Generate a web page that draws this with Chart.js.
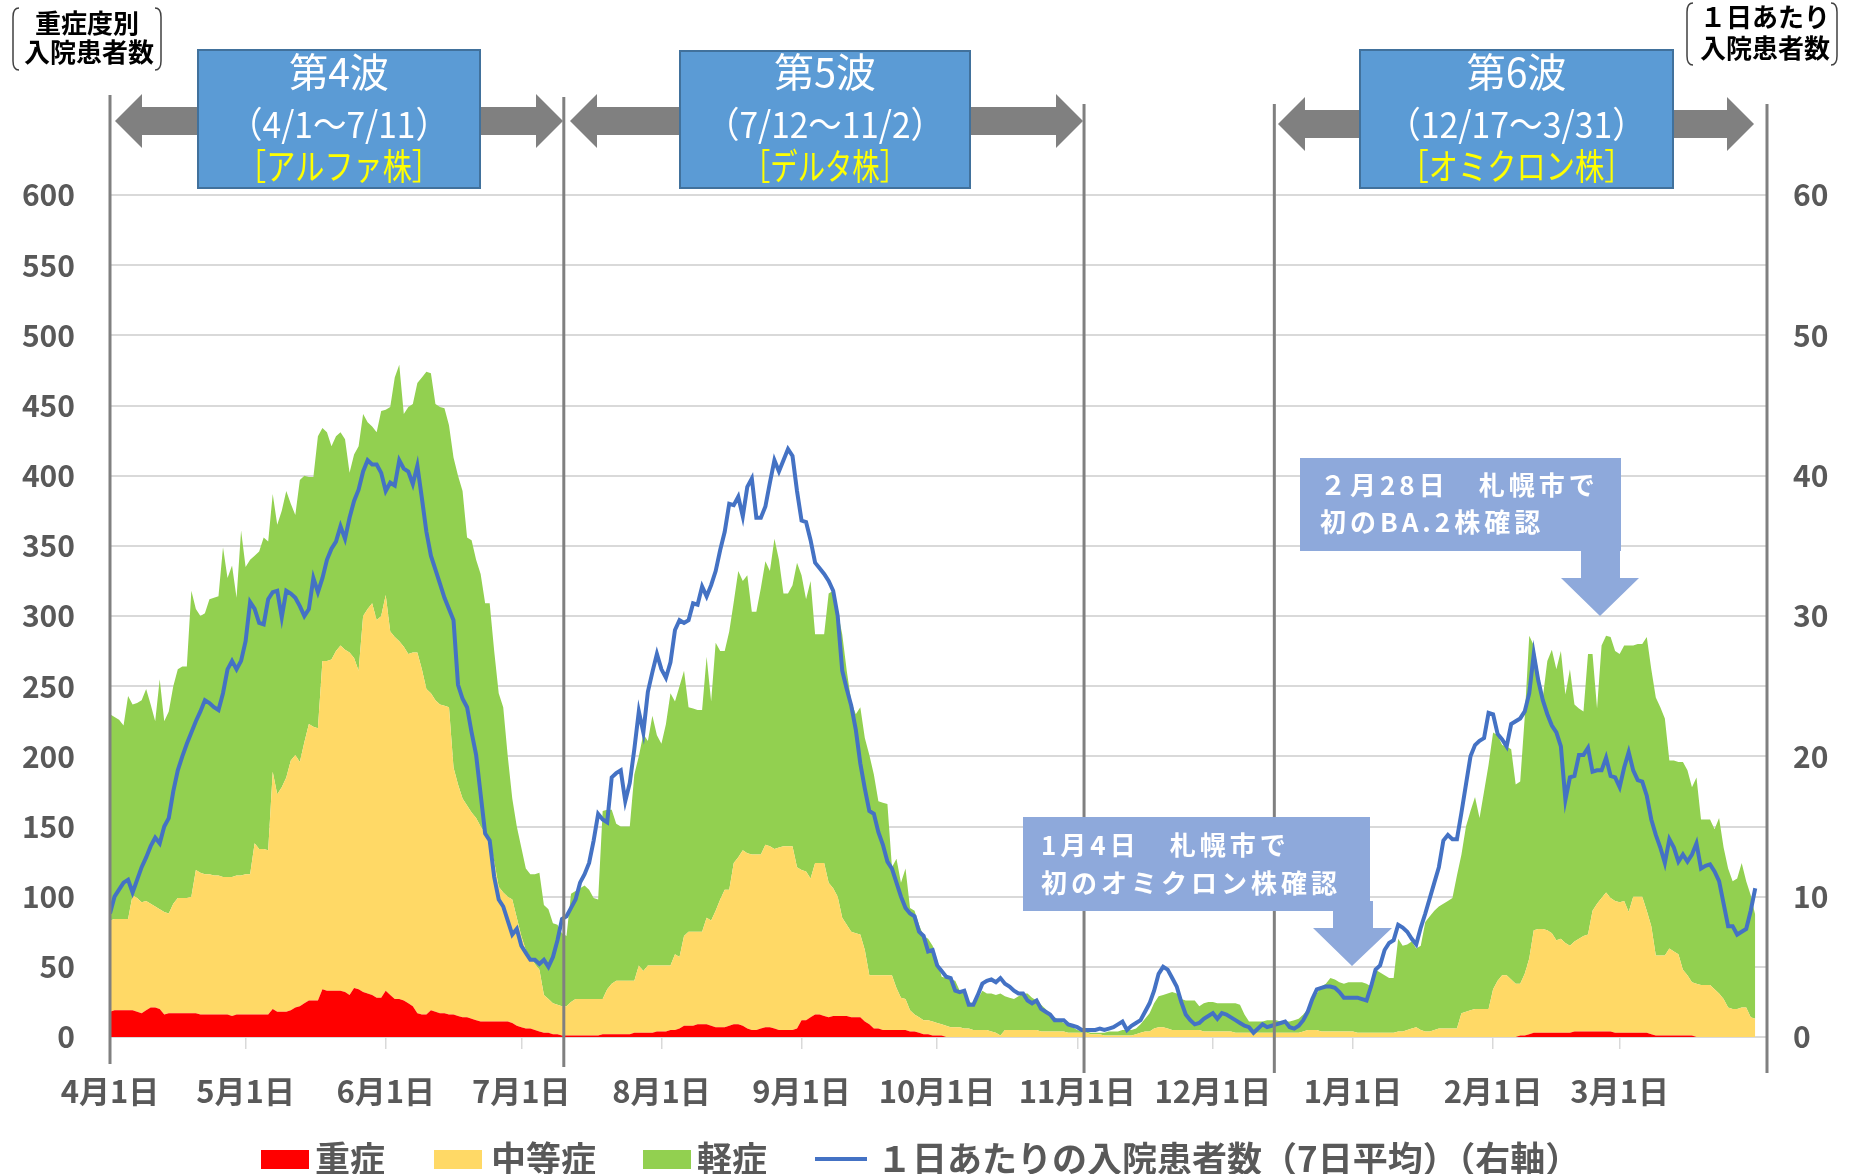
<!DOCTYPE html>
<html><head><meta charset="utf-8">
<script src="https://cdn.jsdelivr.net/npm/chart.js@4.4.0/dist/chart.umd.min.js"></script>
<style>html,body{margin:0;padding:0;background:#fff;}#wrap{width:1854px;height:1174px;position:relative;}canvas{display:block;}</style>
</head><body><div id="wrap"><canvas id="c" width="1854" height="1174"></canvas></div>
<script>
// Day 0 = 2021-04-01 ... day 364 = 2022-03-31
const monthTickDays = [0,30,61,91,122,153,183,214,244,275,306,334];
const monthTickLabels = ['4月1日','5月1日','6月1日','7月1日','8月1日','9月1日','10月1日','11月1日','12月1日','1月1日','2月1日','3月1日'];
const seriesNames = ['重症','中等症','軽症','１日あたりの入院患者数（7日平均）（右軸）'];

const severe = [
18,19,19,19,19,19,18,17,19,21, 21,20,16,17,17,17,17,17,17,17,
16,16,16,16,16,16,16,15,16,16, 16,16,16,16,16,16,20,18,18,18,
19,21,22,24,26,26,26,34,33,33, 33,33,32,30,35,34,32,31,30,28,
28,33,30,27,27,26,24,22,17,16, 16,19,18,17,17,16,16,15,14,14,
13,12,11,11,11,11,11,11,11,10, 8,7,6,6,5,4,3,3,2,2,
1,1,1,1,1,1,1,1,1,2, 2,2,2,2,2,2,3,3,3,3,
3,4,4,4,5,5,6,8,8,8, 9,9,9,8,7,7,7,8,9,9,
8,6,5,5,6,7,7,6,5,5, 5,5,6,12,12,14,16,16,15,14,
15,15,15,15,14,14,14,11,9,6, 6,5,5,5,5,5,5,4,4,3,
2,2,1,1,1,0,0,0,0,0, 0,0,0,0,0,0,0,0,0,0,
0,0,0,0,0,0,0,0,0,0, 0,0,0,0,0,0,0,0,0,0,
0,0,0,0,0,0,0,0,0,0, 0,0,0,0,0,0,0,0,0,0,
0,0,0,0,0,0,0,0,0,0, 0,0,0,0,0,0,0,0,0,0,
0,0,0,0,0,0,0,0,0,0, 0,0,0,0,0,0,0,0,0,0,
0,0,0,0,0,0,0,0,0,0, 0,0,0,0,0,0,0,0,0,0,
0,0,0,0,0,0,0,0,0,0, 0,0,1,1,2,3,3,3,3,3,
3,3,3,3,4,4,4,4,4,4, 4,4,4,3,3,3,3,3,3,3,
3,2,1,1,1,1,1,1,1,1, 1,0,0,0,0,0,0,0,0,0,
0,0,0,0,0];

const moderate = [
65,65,65,65,65,82,81,79,78,74, 72,71,73,71,78,82,82,82,83,102,
101,100,100,99,99,98,98,99,99,99, 100,100,122,118,118,117,169,155,160,167,
178,180,174,186,197,195,194,234,235,236, 242,246,244,244,235,227,268,274,279,269,
272,282,259,258,255,252,249,252,257,246, 232,226,222,220,219,219,176,165,156,151,
147,144,139,134,129,114,96,92,89,88, 77,65,56,51,47,44,27,24,22,21,
21,21,24,26,26,26,26,26,26,25, 32,36,38,38,38,38,37,48,44,48,
48,47,47,47,46,54,51,64,67,67, 66,66,76,75,83,91,98,97,115,119,
125,125,125,125,124,130,129,128,130,131, 131,131,115,107,106,99,108,108,109,96,
91,85,70,65,61,60,59,51,35,38, 38,39,39,39,30,23,22,15,12,11,
10,10,10,9,8,8,7,7,7,6, 6,5,5,5,5,4,3,1,5,5,
5,5,5,5,5,5,4,4,4,4, 4,4,3,3,3,3,3,2,2,2,
1,1,1,1,1,1,1,2,3,4, 4,6,7,7,6,5,5,5,5,5,
5,5,4,4,4,4,4,4,4,3, 3,3,3,3,3,3,3,3,3,3,
3,3,3,3,4,5,5,5,4,4, 4,4,4,4,4,4,3,3,3,3,
3,3,3,3,3,4,4,5,6,7, 5,4,4,5,6,6,6,6,6,17,
18,19,20,20,20,20,34,40,44,44, 41,38,37,44,54,73,74,74,73,71,
66,67,64,62,64,66,68,69,86,91, 95,99,95,94,93,94,86,97,97,97,
87,77,57,57,57,62,60,58,47,43, 38,38,37,37,37,34,31,27,21,20,
20,21,21,14,13];

const mild = [
147,144,142,138,159,136,139,144,151,142, 132,164,136,144,155,163,165,165,218,186,
183,186,196,198,199,235,213,222,198,246, 219,224,205,212,222,220,198,192,197,204,
183,171,201,190,176,178,208,166,163,152, 153,152,150,128,145,160,144,133,126,134,
146,132,160,185,197,166,176,177,192,208, 226,228,211,212,212,201,221,220,219,191,
194,184,180,164,169,150,138,132,100,72, 65,63,58,59,64,69,64,64,57,57,
52,50,77,77,79,81,78,72,71,134, 128,124,112,110,110,110,147,149,169,160,
178,164,158,172,194,180,193,189,160,159, 158,158,186,156,191,177,170,184,186,204,
192,198,173,173,190,202,196,221,205,180, 180,186,217,210,194,212,163,163,163,206,
212,203,202,181,164,156,162,151,157,143, 124,123,122,77,92,82,93,73,74,66,
60,58,54,45,34,34,34,33,26,26, 19,19,22,28,26,27,27,30,24,23,
22,24,26,26,23,21,19,16,12,10, 8,6,5,4,2,1,1,1,1,1,
2,3,3,3,4,4,4,4,6,9, 13,18,22,23,25,27,26,22,21,21,
21,17,20,21,21,20,20,20,20,21, 20,13,8,8,8,8,9,9,9,8,
8,8,9,10,12,15,21,26,32,34, 38,37,35,34,35,35,36,36,35,33,
45,43,41,39,39,66,61,61,62,56, 60,78,82,85,87,89,91,93,109,113,
132,142,151,136,155,174,183,175,164,163, 164,142,144,183,230,203,183,165,192,202,
193,205,177,197,169,164,160,200,183,139, 180,183,186,178,177,182,190,179,180,180,
195,183,184,177,169,134,136,137,148,146, 139,147,118,118,118,114,125,108,99,91,
93,103,90,87,74];

const admissions7d = [
8.8,10.0,10.5,11.0,11.2,10.3,11.2,12.1,12.8,13.6, 14.2,13.8,15.0,15.6,17.5,19.0,20.0,20.9,21.7,22.5,
23.2,24.0,23.8,23.5,23.3,24.5,26.2,26.8,26.2,26.8, 28.2,31.0,30.5,29.5,29.4,31.2,31.7,31.8,29.9,31.8,
31.6,31.3,30.7,30.0,30.5,32.7,31.7,32.7,34.0,34.8, 35.3,36.4,35.5,37.0,38.2,39.0,40.3,41.1,40.8,40.8,
40.2,38.9,39.5,39.3,41.1,40.5,40.3,39.4,40.7,38.4, 36.0,34.3,33.3,32.3,31.3,30.5,29.7,25.1,24.1,23.5,
21.7,20.1,17.3,14.5,14.0,11.4,9.8,9.3,8.3,7.3, 7.7,6.5,6.0,5.5,5.5,5.2,5.5,5.0,5.7,6.9,
8.4,8.6,9.2,9.8,11.0,11.6,12.4,14.0,15.9,15.5, 15.3,18.5,18.8,19.0,16.8,18.1,20.5,23.2,21.7,24.6,
26.0,27.3,26.2,25.6,26.7,29.0,29.7,29.5,29.7,30.9, 30.8,32.1,31.4,32.2,33.2,34.7,36.0,38.0,37.9,38.5,
37.1,39.2,39.8,37.0,37.0,37.8,39.5,41.1,40.3,41.1, 41.9,41.4,38.9,36.8,36.7,35.4,33.8,33.4,33.0,32.5,
31.8,30.0,26.1,24.8,23.6,21.9,19.5,17.7,16.1,15.9, 14.6,13.7,12.5,12.0,11.0,10.0,9.2,8.8,8.6,7.5,
7.2,6.1,6.2,5.1,4.7,4.3,4.2,3.3,3.2,3.3, 2.3,2.3,3.0,3.8,4.0,4.1,3.9,4.2,3.8,3.6,
3.3,3.1,3.1,2.6,2.4,2.6,2.0,1.8,1.6,1.2, 1.2,1.2,0.9,0.8,0.7,0.5,0.5,0.5,0.5,0.6,
0.5,0.6,0.7,0.9,1.1,0.5,0.8,1.0,1.2,1.8, 2.4,3.3,4.5,5.0,4.8,4.2,3.6,2.5,1.6,1.2,
0.9,1.0,1.3,1.5,1.7,1.3,1.7,1.6,1.4,1.2, 1.0,0.8,0.7,0.3,0.6,0.9,0.7,0.8,0.9,1.0,
1.1,0.7,0.6,0.8,1.2,1.8,2.7,3.4,3.5,3.6, 3.6,3.5,3.2,2.8,2.8,2.8,2.8,2.7,2.6,3.6,
4.8,5.1,6.2,6.7,6.9,8.0,7.8,7.5,7.0,6.6, 7.8,8.8,9.9,11.0,12.1,14.0,14.4,14.1,14.1,16.0,
18.0,20.0,20.8,21.1,21.3,23.1,23.0,21.6,21.2,20.7, 22.3,22.5,22.7,23.2,24.5,27.3,25.4,24.0,23.0,22.2,
21.7,20.7,16.9,18.5,18.6,20.1,20.1,20.6,18.9,19.0, 19.0,19.9,18.6,18.5,17.8,19.2,20.3,19.0,18.3,18.2,
17.2,15.5,14.4,13.5,12.4,14.1,13.5,12.5,13.0,12.5, 13.0,13.8,12.0,12.2,12.3,11.8,11.1,9.5,7.9,7.9,
7.3,7.5,7.7,9.0,10.6];

// wave boundaries (day positions of the grey separators)
const waveBoundaryDays = [0, 100.4, 215.5, 257.6];
const waveTitles = ['第4波','第5波','第6波'];
const wavePeriods = ['（4/1〜7/11）','（7/12〜11/2）','（12/17〜3/31）'];
const waveStrains = ['［アルファ株］','［デルタ株］','［オミクロン株］'];

const FONT = "'Noto Sans CJK JP', 'Noto Sans', sans-serif";
Chart.defaults.font.family = FONT;

const toXY = arr => arr.map((v, i) => ({x: i, y: v}));

const decor = {
  id: 'decor',
  afterDraw(chart) {
    const ctx = chart.ctx;
    const xs = chart.scales.x;
    ctx.save();
    const lines = [
      [xs.getPixelForValue(waveBoundaryDays[0]), 95, 1064],
      [xs.getPixelForValue(waveBoundaryDays[1]), 97, 1067],
      [xs.getPixelForValue(waveBoundaryDays[2]), 104, 1073],
      [xs.getPixelForValue(waveBoundaryDays[3]), 104, 1073],
      [xs.right, 104, 1073]
    ];
    ctx.strokeStyle = '#808080'; ctx.lineWidth = 3;
    lines.forEach(([x, y1, y2]) => { ctx.beginPath(); ctx.moveTo(x, y1); ctx.lineTo(x, y2); ctx.stroke(); });

    function dblArrow(x1, x2, cy) {
      const hl = 27, hh = 27, sh = 14;
      ctx.beginPath();
      ctx.moveTo(x1, cy); ctx.lineTo(x1 + hl, cy - hh); ctx.lineTo(x1 + hl, cy - sh);
      ctx.lineTo(x2 - hl, cy - sh); ctx.lineTo(x2 - hl, cy - hh); ctx.lineTo(x2, cy);
      ctx.lineTo(x2 - hl, cy + hh); ctx.lineTo(x2 - hl, cy + sh); ctx.lineTo(x1 + hl, cy + sh);
      ctx.lineTo(x1 + hl, cy + hh); ctx.closePath();
      ctx.fillStyle = '#808080'; ctx.fill();
    }
    dblArrow(115, 563, 121);
    dblArrow(570, 1083, 121);
    dblArrow(1278, 1754, 124);

    const boxes = [[198, 50, 282, 138, [100, 220, 204]], [680, 51, 290, 137, [102, 238, 164]], [1360, 50, 313, 138, [100, 259, 234]]];
    boxes.forEach((b, i) => {
      const [bx, by, bw, bh, widths] = b;
      ctx.fillStyle = '#5B9BD5'; ctx.fillRect(bx, by, bw, bh);
      ctx.strokeStyle = '#41719C'; ctx.lineWidth = 2; ctx.strokeRect(bx, by, bw, bh);
      const cx = bx + bw / 2;
      ctx.textAlign = 'center'; ctx.textBaseline = 'middle';
      ctx.fillStyle = '#FFFFFF';
      ctx.font = "40px " + FONT; ctx.fillText(waveTitles[i], cx, 72, widths[0]);
      ctx.font = "36px " + FONT; ctx.fillText(wavePeriods[i], cx, 124, widths[1]);
      ctx.fillStyle = '#FFFF00';
      ctx.font = "36px " + FONT; ctx.fillText(waveStrains[i], cx, 166, widths[2]);
    });

    function callout(rx, ry, rw, rh, sx1, sx2, hx1, hx2, tipX, shaftBottom, tipY, lines, tx, tys) {
      ctx.fillStyle = '#8EA9DB';
      ctx.fillRect(rx, ry, rw, rh);
      ctx.beginPath();
      ctx.moveTo(sx1, ry + rh - 10); ctx.lineTo(sx2, ry + rh - 10); ctx.lineTo(sx2, shaftBottom);
      ctx.lineTo(hx2, shaftBottom); ctx.lineTo(tipX, tipY); ctx.lineTo(hx1, shaftBottom);
      ctx.lineTo(sx1, shaftBottom); ctx.closePath(); ctx.fill();
      ctx.fillStyle = '#FFFFFF';
      ctx.font = "bold 26px " + FONT;
      ctx.textAlign = 'left'; ctx.textBaseline = 'middle';
      try { ctx.letterSpacing = '4px'; } catch (e) {}
      lines.forEach((t, k) => ctx.fillText(t, tx, tys[k]));
      try { ctx.letterSpacing = '0px'; } catch (e) {}
    }
    callout(1023, 817, 347, 94, 1333, 1373, 1313, 1392, 1352, 928, 966,
      ['1月4日　札幌市で', '初のオミクロン株確認'], 1041, [845, 883]);
    callout(1300, 458, 321, 93, 1581, 1620, 1561, 1639, 1600, 578, 616,
      ['２月28日　札幌市で', '初のBA.2株確認'], 1320, [485, 522]);

    function bracket(x, top, bottom, dir) {
      ctx.beginPath();
      ctx.moveTo(x + 6 * dir, top);
      ctx.quadraticCurveTo(x, top, x, top + 9);
      ctx.lineTo(x, bottom - 9);
      ctx.quadraticCurveTo(x, bottom, x + 6 * dir, bottom);
      ctx.strokeStyle = '#404040'; ctx.lineWidth = 1.5; ctx.stroke();
    }
    ctx.fillStyle = '#000000';
    ctx.font = "bold 26px " + FONT;
    ctx.textAlign = 'center'; ctx.textBaseline = 'middle';
    ctx.fillText('重症度別', 87, 23);
    ctx.fillText('入院患者数', 89, 52);
    bracket(13, 8, 70, 1); bracket(161, 8, 70, -1);
    ctx.fillText('１日あたり', 1765, 17);
    ctx.fillText('入院患者数', 1765, 48);
    bracket(1687, 3, 65, 1); bracket(1837, 3, 65, -1);

    const legendY = 1159;
    const items = [['box', '#FF0000', 261, 315], ['box', '#FFD966', 434, 491], ['box', '#92D050', 643, 697], ['line', '#4472C4', 815, 877]];
    ctx.font = "bold 35px " + FONT; ctx.textAlign = 'left'; ctx.textBaseline = 'middle';
    items.forEach((it, i) => {
      const [kind, col, x0, tx] = it;
      if (kind === 'box') { ctx.fillStyle = col; ctx.fillRect(x0, legendY - 9, 48, 19); }
      else { ctx.strokeStyle = col; ctx.lineWidth = 4; ctx.beginPath(); ctx.moveTo(x0, legendY); ctx.lineTo(x0 + 52, legendY); ctx.stroke(); }
      ctx.fillStyle = '#595959';
      ctx.fillText(seriesNames[i], tx, legendY);
    });
    ctx.restore();
  }
};

new Chart(document.getElementById('c'), {
  type: 'line',
  data: {
    datasets: [
      { label: seriesNames[0], data: toXY(severe), backgroundColor: '#FF0000', borderWidth: 0, pointRadius: 0, fill: 'origin', yAxisID: 'y', order: 1 },
      { label: seriesNames[1], data: toXY(moderate), backgroundColor: '#FFD966', borderWidth: 0, pointRadius: 0, fill: '-1', yAxisID: 'y', order: 1 },
      { label: seriesNames[2], data: toXY(mild), backgroundColor: '#92D050', borderWidth: 0, pointRadius: 0, fill: '-1', yAxisID: 'y', order: 1 },
      { label: seriesNames[3], data: toXY(admissions7d), borderColor: '#4472C4', borderWidth: 4, pointRadius: 0, fill: false, yAxisID: 'y2', order: 0, tension: 0 }
    ]
  },
  options: {
    responsive: false,
    devicePixelRatio: 1,
    animation: false,
    events: [],
    layout: { padding: { top: 195, left: 0, right: 0, bottom: 0 } },
    plugins: { legend: { display: false }, tooltip: { enabled: false } },
    scales: {
      x: {
        type: 'linear', min: 0, max: 366.6,
        afterBuildTicks: s => { s.ticks = monthTickDays.map(v => ({ value: v })); },
        afterFit: s => { s.height = 137; },
        ticks: {
          autoSkip: false, maxRotation: 0, minRotation: 0, padding: 24, color: '#595959',
          font: { size: 31, weight: 'bold' },
          callback: v => { const i = monthTickDays.indexOf(v); return i >= 0 ? monthTickLabels[i] : ''; }
        },
        grid: { drawOnChartArea: false, drawTicks: true, tickLength: 12, color: '#D9D9D9', lineWidth: 1.5 },
        border: { display: false }
      },
      y: {
        position: 'left', stacked: true, min: 0, max: 600,
        afterFit: s => { s.width = 110; },
        ticks: { stepSize: 50, padding: 35, color: '#595959', font: { size: 30, weight: 'bold' } },
        grid: { color: '#D9D9D9', lineWidth: 2, drawTicks: false },
        border: { display: false }
      },
      y2: {
        position: 'right', min: 0, max: 60,
        afterFit: s => { s.width = 87; },
        ticks: { stepSize: 10, padding: 26, color: '#595959', font: { size: 30, weight: 'bold' } },
        grid: { drawOnChartArea: false, drawTicks: false },
        border: { display: false }
      }
    }
  },
  plugins: [decor]
});
</script></body></html>
